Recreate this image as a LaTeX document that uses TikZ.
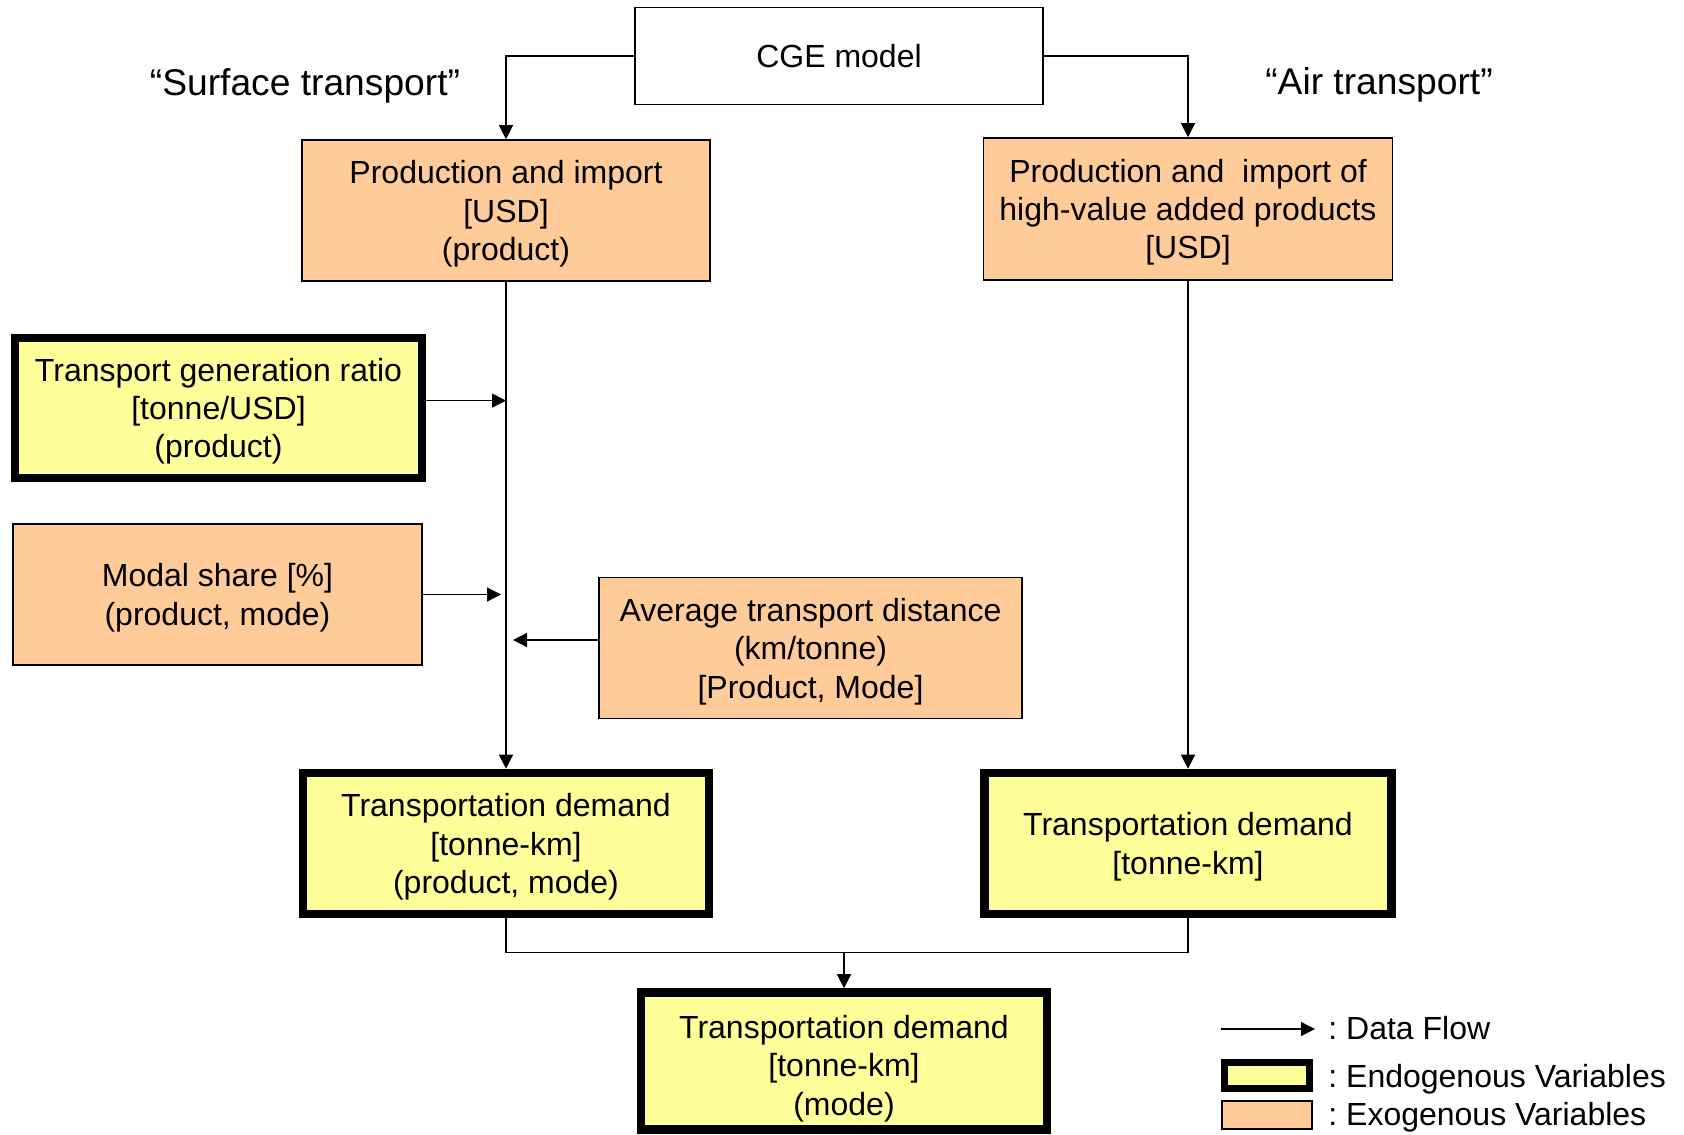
\documentclass[tikz,border=0pt]{standalone}
\usepackage{fontspec}
\setmainfont{Liberation Sans}
\usetikzlibrary{arrows.meta}
\definecolor{exofill}{HTML}{FFCC99}
\definecolor{endofill}{HTML}{FFFF99}

\begin{document}
\begin{tikzpicture}[x=0.5pt,y=-0.5pt,
box/.style={%
draw,
line width=0.8pt,
align=center,
font=\fontsize{16}{19.2}\selectfont,
minimum width=204pt,
minimum height=70.5pt,
inner sep=0pt
},
exo/.style={%
box,
fill=exofill,
text depth=-2pt
},
endo/.style={%
box,
fill=endofill,
line width=4.3pt,
text depth=-2pt
},
keybox/.style={%
draw,
inner sep=0pt
},
head/.style={%
font=\fontsize{18.6}{22}\selectfont
},
flow/.style={%
line width=0.6pt,
-{Triangle[length=7pt,width=7pt]}
},
key/.style={%
anchor=west,
inner sep=0pt,
font=\fontsize{16}{19}\selectfont
},
]
\useasboundingbox(0,0)rectangle(1684,1134);
%% top
\node[box,minimum height=48.5pt]at(839,56)(cge){CGE model};
\node[head]at(305,86)(surf){“Surface transport”};
\node[head]at(1379,85)(air){“Air transport”};
%% surface transport
\node[exo]at(506,210.5)(prodL){Production and import\\{}[USD]\\(product)};
\node[endo,minimum width=203.5pt,minimum height=70pt]at(218.5,408)(ratio){Transport generation ratio\\{}[tonne/USD]\\(product)};
\node[exo,minimum width=204.5pt]at(217.5,594.5)(share){Modal share [\%]\\(product, mode)};
\node[exo,minimum width=211.5pt]at(810.5,648)(dist){Average transport distance\\(km/tonne)\\{}[Product, Mode]};
\node[endo,minimum width=203pt]at(506,843.5)(tdL){Transportation demand\\{}[tonne-km]\\(product, mode)};
%% air transport
\node[exo,minimum width=204.5pt,minimum height=71pt]at(1188,209)(prodR){Production and\ \ import of\\high-value added products\\{}[USD]};
\node[endo,minimum width=203.5pt]at(1188,843.5)(tdR){Transportation demand\\{}[tonne-km]};
%% total
\node[endo,minimum width=203pt,minimum height=68.5pt,text height=54pt]at(844,1061)(tdM){Transportation demand\\{}[tonne-km]\\(mode)};
%% flows
\draw[flow](cge.west)-|(prodL.north);
\draw[flow](cge.east)-|(prodR.north);
\draw[flow](prodL.south)--(tdL.north);
\draw[flow](prodR.south)--(tdR.north);
\draw[flow]([yshift=3.7pt]ratio.east)--([yshift=3.7pt]ratio.east-|prodL.south);
\draw[flow,shorten >=2.5pt](share.east)--(share.east-|prodL.south);
\draw[flow,shorten >=3.5pt]([yshift=4pt]dist.west)--([yshift=4pt]dist.west-|prodL.south);
\coordinate(jn)at(844,952.5);
\draw[line width=0.6pt](tdL.south)|-(jn)-|(tdR.south);
\draw[flow](jn)--(tdM.north);
%% legend
\coordinate(k1)at(1221,1029);
\coordinate(k2)at(1315,1029);
\draw[flow](k1)--(k2);
\node[key]at(1328,1028)(kflow){:\ Data Flow};
\node[keybox,fill=endofill,line width=3.5pt,minimum width=42.5pt,minimum height=13pt]at(1267,1075.5)(kendo){};
\node[keybox,fill=exofill,line width=0.8pt,minimum width=45pt,minimum height=14pt]at(1267,1115)(kexo){};
\node[key]at(1328,1079.5)(kendotxt){:\ Endogenous Variables};
\node[key]at(1328,1117)(kexotxt){:\ Exogenous Variables};
\end{tikzpicture}
\end{document}
